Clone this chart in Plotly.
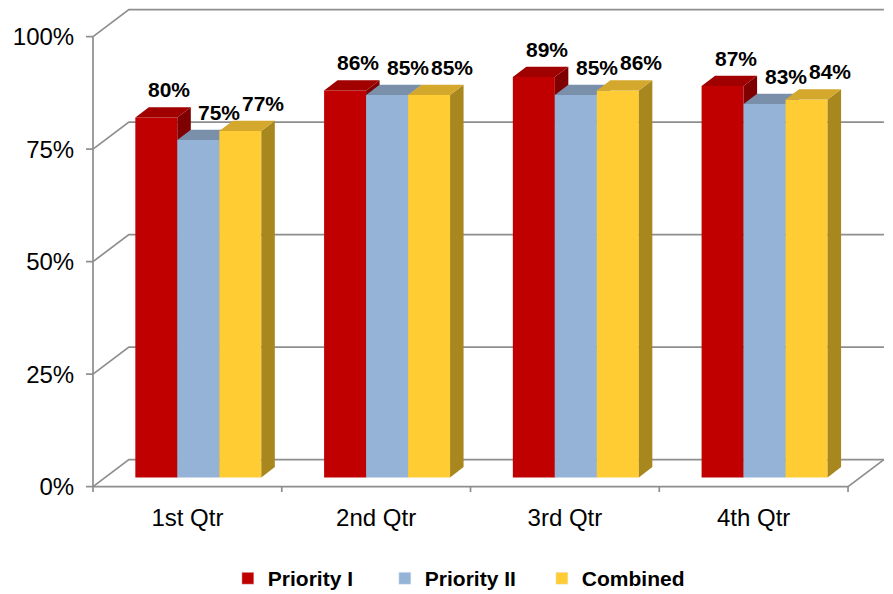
import plotly.graph_objects as go

# ---------------- data ----------------
categories = ["1st Qtr", "2nd Qtr", "3rd Qtr", "4th Qtr"]
series_names = ["Priority I", "Priority II", "Combined"]
priority_1 = [0.80, 0.86, 0.89, 0.87]
priority_2 = [0.75, 0.85, 0.85, 0.83]
combined = [0.77, 0.85, 0.86, 0.84]
y_tick_values = [0.0, 0.25, 0.50, 0.75, 1.00]
y_tick_labels = ["0%", "25%", "50%", "75%", "100%"]

series_values = [priority_1, priority_2, combined]

# ---------------- style ----------------
front_colors = ["#C00000", "#95B3D7", "#FFCC33"]
top_colors = ["#A00000", "#7A8FAA", "#D4A82C"]
side_colors = ["#7E0000", "#6F8299", "#A8871F"]
label_xshift = [13, 21, 23]
FONT = "Arial, Liberation Sans, sans-serif"
GRID = "#8E8E8E"

BAR_W = 0.2225            # width of one bar (category units)
PLANE_DX, PLANE_DY = 0.058, 0.02   # depth offset of bar front plane
TOP_DX, TOP_DY = 0.0715, 0.0233    # bar depth (top/side faces)
WALL_DX, WALL_DY = 0.19, 0.06      # depth of back wall
n = len(categories)

fig = go.Figure()

# legend entries
for name, c in zip(series_names, front_colors):
    fig.add_trace(go.Bar(x=[None], y=[None], name=name, marker_color=c,
                         showlegend=True, hoverinfo="skip"))

# walls, gridlines, ticks
gx, gy = [], []


def seg(pts):
    for px, py in pts:
        gx.append(px)
        gy.append(py)
    gx.append(None)
    gy.append(None)


seg([(0, 0), (0, y_tick_values[-1])])
for v in y_tick_values:
    seg([(0, v), (WALL_DX, v + WALL_DY), (n + WALL_DX, v + WALL_DY)])
    seg([(0, v), (-0.037, v)])
seg([(0, 0), (n, 0), (n + WALL_DX, WALL_DY)])
for i in range(n + 1):
    seg([(i, 0), (i, -0.012)])

fig.add_trace(go.Scatter(x=gx, y=gy, mode="lines", showlegend=False,
                         hoverinfo="skip",
                         line=dict(color=GRID, width=1.7)))

annotations = []
for j, vals in enumerate(series_values):
    fx, fy, sx, sy, tx, ty = [], [], [], [], [], []
    for i, v in enumerate(vals):
        x0 = i + 0.5 - 1.5 * BAR_W + PLANE_DX + j * BAR_W
        x1 = x0 + BAR_W
        b = PLANE_DY
        h = b + v
        fx += [x0, x1, x1, x0, None]
        fy += [b, b, h, h, None]
        sx += [x1, x1 + TOP_DX, x1 + TOP_DX, x1, None]
        sy += [b, b + TOP_DY, h + TOP_DY, h, None]
        tx += [x0, x1, x1 + TOP_DX, x0 + TOP_DX, None]
        ty += [h, h, h + TOP_DY, h + TOP_DY, None]
        annotations.append(dict(
            x=(x0 + x1) / 2, y=h, xref="x", yref="y",
            text=f"{round(v * 100)}%", showarrow=False,
            xanchor="center", yanchor="middle",
            xshift=label_xshift[j], yshift=28,
            font=dict(family=FONT, size=21, color="#000000", weight="bold")))
    for xs, ys, col in ((fx, fy, front_colors[j]),
                        (sx, sy, side_colors[j]),
                        (tx, ty, top_colors[j])):
        fig.add_trace(go.Scatter(x=xs, y=ys, mode="lines", fill="toself",
                                 fillcolor=col, line=dict(width=0, color=col),
                                 showlegend=False, hoverinfo="skip"))

# the page adds an 8px body margin, so the figure is drawn 8px smaller
fig.update_layout(
    width=885, height=586,
    margin=dict(l=78, r=1, t=0, b=102, autoexpand=False),
    plot_bgcolor="white", paper_bgcolor="white",
    font=dict(family=FONT, size=24, color="#000000"),
    annotations=annotations,
    showlegend=True,
    legend=dict(orientation="h", x=0.176, xanchor="left",
                y=-0.179, yanchor="middle",
                font=dict(family=FONT, size=21, color="#000000", weight="bold"),
                entrywidth=112, entrywidthmode="pixels",
                itemwidth=30, traceorder="normal"),
    xaxis=dict(range=[-0.0371, 4.233], showgrid=False, zeroline=False,
               showline=False, tickvals=[i + 0.5 for i in range(n)],
               ticktext=categories, ticks="outside", ticklen=4,
               tickcolor="rgba(0,0,0,0)", automargin=False,
               fixedrange=True),
    yaxis=dict(range=[-0.012, 1.0636], showgrid=False, zeroline=False,
               showline=False, tickvals=y_tick_values, ticktext=y_tick_labels,
               ticks="outside", ticklen=6, tickcolor="rgba(0,0,0,0)",
               automargin=False, fixedrange=True),
)

fig.write_html("out.html")
